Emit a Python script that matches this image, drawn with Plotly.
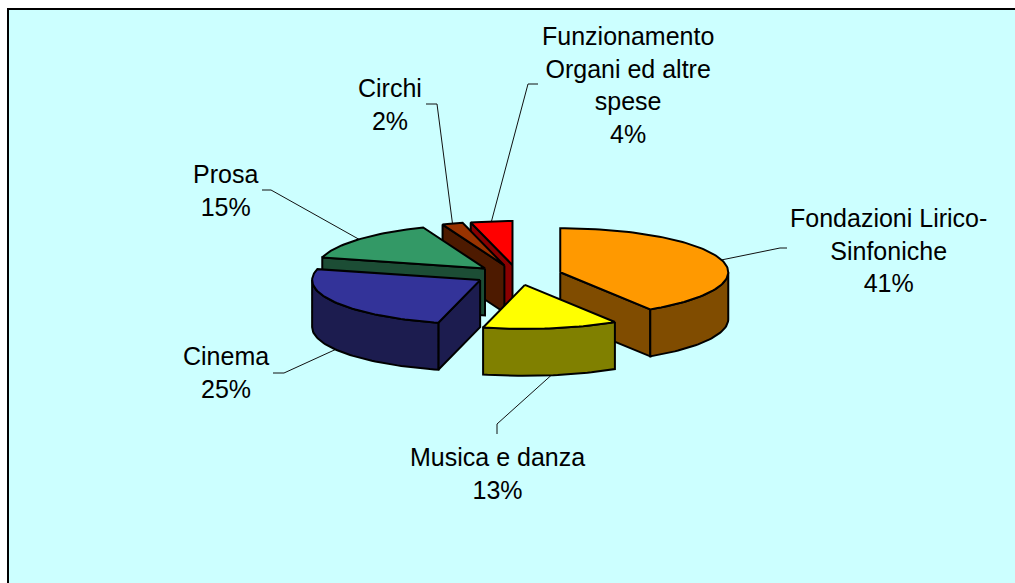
import math
import plotly.graph_objects as go

# ---- data ----
labels = ["Fondazioni Lirico-Sinfoniche", "Musica e danza", "Cinema", "Prosa",
          "Circhi", "Funzionamento Organi ed altre spese"]
label_lines = ["Fondazioni Lirico-<br>Sinfoniche", "Musica e danza", "Cinema", "Prosa",
               "Circhi", "Funzionamento<br>Organi ed altre<br>spese"]
values = [41, 13, 25, 15, 2, 4]
top_colors = ["#FF9900", "#FFFF00", "#333399", "#339966", "#993300", "#FF0000"]
side_colors = ["#804C00", "#808000", "#1C1C4F", "#1C4D35", "#4D1A00", "#8A0000"]

# ---- layout constants (page pixels) ----
W, H = 1015, 583
ML, MT = 9, 10
CX, CY = 518, 275          # pie centre
A, B = 168, 44             # ellipse semi-axes of top face
D = 47                     # depth of the 3D pie
EA, EB = 44, 10            # explosion offset
label_pos = [(888, 250), (497, 473), (226, 372), (225, 190), (390, 104), (628, 85)]
leader_tail = [[(780, 248), (787, 248)], [(497, 424), (497, 434)],
               [(284, 373), (273, 373)], [(271, 190), (262, 190)],
               [(437, 104), (426, 104)], [(528, 84), (538, 84)]]
FONT = "Liberation Sans, Arial, sans-serif"

total = sum(values)
fig = go.Figure()


def poly(pts, color):
    xs = [p[0] for p in pts] + [pts[0][0]]
    ys = [p[1] for p in pts] + [pts[0][1]]
    fig.add_trace(go.Scatter(x=xs, y=ys, mode="lines", fill="toself", fillcolor=color,
                             line=dict(color="black", width=2), hoverinfo="skip",
                             showlegend=False))


slices = []
cum = 0.0
for i, v in enumerate(values):
    s = cum / total * 2 * math.pi
    cum += v
    e = cum / total * 2 * math.pi
    m = (s + e) / 2
    apex = (CX + EA * math.sin(m), CY - EB * math.cos(m))
    slices.append((i, s, e, m, apex))


def pt(apex, phi, dy=0.0):
    return (apex[0] + A * math.sin(phi), apex[1] - B * math.cos(phi) + dy)


def arc(apex, a0, a1, dy=0.0):
    n = max(4, int(abs(a1 - a0) / math.radians(1.5)))
    return [pt(apex, a0 + (a1 - a0) * k / n, dy) for k in range(n + 1)]


# leader lines (drawn first, under the pie)
lx, ly = [], []
for i, s, e, m, apex in slices:
    start = pt(apex, m, D if math.cos(m) < 0 else 0)
    pts = [start] + leader_tail[i]
    lx += [p[0] for p in pts] + [None]
    ly += [p[1] for p in pts] + [None]
fig.add_trace(go.Scatter(x=lx, y=ly, mode="lines", line=dict(color="#111111", width=1),
                         hoverinfo="skip", showlegend=False))

# pie solids, back to front
for i, s, e, m, apex in sorted(slices, key=lambda t: -math.cos(t[3])):
    apex_b = (apex[0], apex[1] + D)
    # radial walls
    if math.sin(s) < -1e-9:
        p, q = pt(apex, s), pt(apex, s, D)
        poly([apex, p, q, apex_b], side_colors[i])
    if math.sin(e) > 1e-9:
        p, q = pt(apex, e), pt(apex, e, D)
        poly([apex, p, q, apex_b], side_colors[i])
    # outer wall (front-facing part)
    lo, hi = max(s, math.pi / 2), min(e, 3 * math.pi / 2)
    if hi > lo:
        poly(arc(apex, lo, hi) + arc(apex, hi, lo, D), side_colors[i])
    # top face
    poly([apex] + arc(apex, s, e), top_colors[i])

annotations = []
for i, v in enumerate(values):
    x, y = label_pos[i]
    annotations.append(dict(xref="x", yref="y", x=x, y=y,
                            text=f"{label_lines[i]}<br>{round(v / total * 100)}%",
                            showarrow=False, xanchor="center", yanchor="middle",
                            font=dict(family=FONT, size=25, color="black")))

fig.update_layout(
    width=W, height=H, margin=dict(l=ML, r=0, t=MT, b=0, pad=0),
    paper_bgcolor="white", plot_bgcolor="#CCFFFF", showlegend=False,
    annotations=annotations,
    xaxis=dict(range=[ML, W], showgrid=False, zeroline=False,
               showticklabels=False, ticks="", showline=True, side="top",
               linecolor="black", linewidth=2, fixedrange=True),
    yaxis=dict(range=[H, MT], showgrid=False, zeroline=False,
               showticklabels=False, ticks="", showline=True,
               linecolor="black", linewidth=2, fixedrange=True),
)
fig.write_html("out.html", config={"displayModeBar": False},
               post_script="document.documentElement.style.overflow='hidden';"
                           "document.body.style.overflow='hidden';"
                           "document.body.style.margin='0';")
